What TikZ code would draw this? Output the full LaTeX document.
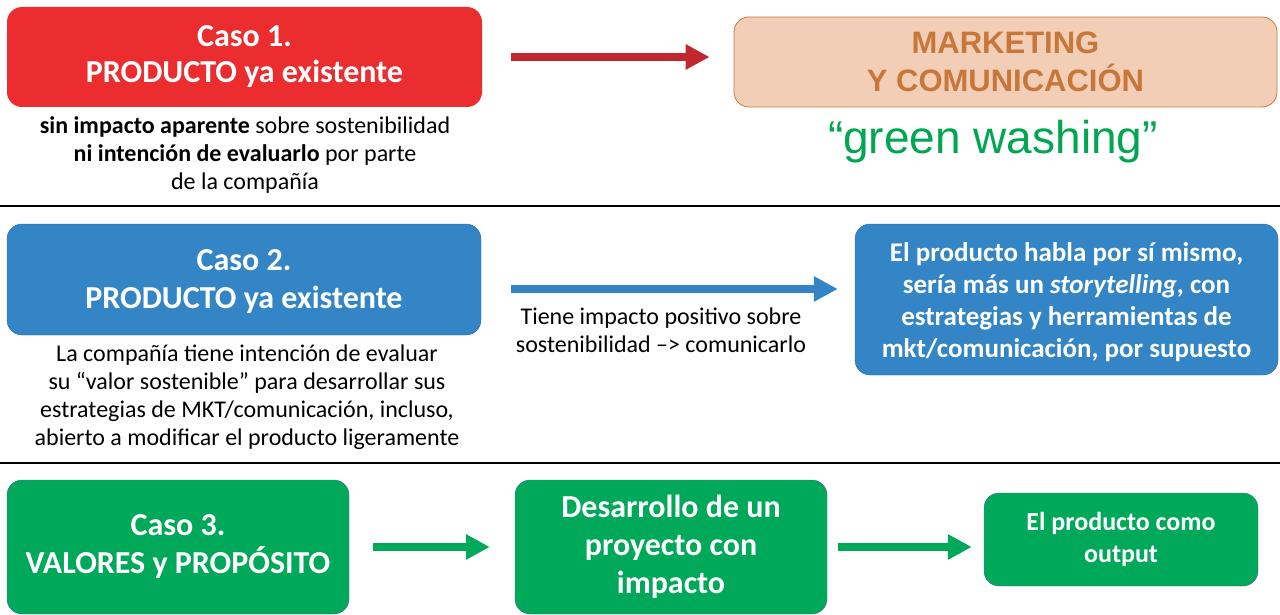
\documentclass[tikz,border=0pt]{standalone}
\usepackage{fontspec}
\setmainfont{Carlito}
\newfontfamily\arialfont{Liberation Sans}
\usetikzlibrary{arrows.meta,positioning}
\definecolor{casored}{HTML}{EB2D30}
\definecolor{arrowred}{HTML}{C0282E}
\definecolor{mktfill}{HTML}{F3CEB6}
\definecolor{mktline}{HTML}{C87A3E}
\definecolor{mkttext}{HTML}{C8773A}
\definecolor{casoblue}{HTML}{3385C6}
\definecolor{casogreen}{HTML}{00A85A}
\definecolor{washgreen}{HTML}{00A651}
\definecolor{boxedge}{HTML}{41719C}
\begin{document}
\begin{tikzpicture}[x=1pt,y=-1pt,
    caja/.style={rounded corners=15pt,text=white,align=center,inner sep=0pt},
    flecha/.style={line width=8pt,-{Triangle[length=24pt,width=24pt]}},
    nota/.style={align=center,font=\fontsize{24}{28}\selectfont}]
  \useasboundingbox (0,0) rectangle (1280,615);
  % --- caso 1
  \node[caja,fill=casored,minimum width=475pt,minimum height=100pt,
    font=\fontsize{32}{36}\selectfont\bfseries] (caso1) at (244.5,57)
    {Caso 1.\\PRODUCTO ya existente};
  \node[nota] (nota1) at (245,155)
    {\textbf{sin impacto aparente} sobre sostenibilidad\\
     \textbf{ni intención de evaluarlo} por parte\\de la compañía};
  \node[caja,fill=mktfill,draw=mktline,thick,minimum width=543pt,minimum height=90pt,
    text=mkttext,font=\arialfont\fontsize{31}{38}\selectfont\bfseries] (mkt) at (1005.5,62)
    {MARKETING\\Y COMUNICACIÓN};
  \node[text=washgreen,font=\arialfont\fontsize{46}{50}\selectfont] (wash) at (993,142)
    {“green washing”};
  \draw[flecha,arrowred,shorten <=29pt,shorten >=24pt] (caso1) -- (mkt.west |- caso1);
  \draw[line width=1.2pt] (0,206) -- (1280,206);
  % --- caso 2
  \node[caja,fill=casoblue,draw=casoblue!80!black,minimum width=474pt,minimum height=111pt,
    font=\fontsize{32}{38}\selectfont\bfseries] (caso2) at (244,279.5)
    {\rule{0pt}{26pt}Caso 2.\\PRODUCTO ya existente};
  \node[nota] (nota2) at (247,397)
    {La compañía tiene intención de evaluar\\
     su “valor sostenible” para desarrollar sus\\
     estrategias de MKT/comunicación, incluso,\\
     abierto a modificar el producto ligeramente};
  \node[caja,fill=casoblue,draw=casoblue!80!black,minimum width=423pt,minimum height=151pt,
    font=\fontsize{27}{32}\selectfont\bfseries] (relato) at (1066.5,299.5)
    {\rule{0pt}{24pt}El producto habla por sí mismo,\\
     sería más un \textit{storytelling}, con\\
     estrategias y herramientas de\\
     mkt/comunicación, por supuesto};
  \coordinate (ini2) at (511,289);
  \draw[flecha,casoblue,shorten >=17pt] (ini2) -- (ini2 -| relato.west);
  \node[nota] (impacto) at (661,330)
    {Tiene impacto positivo sobre\\sostenibilidad –> comunicarlo};
  \draw[line width=1.6pt] (0,463) -- (1280,463);
  % --- caso 3
  \node[caja,fill=casogreen,draw=boxedge,minimum width=342pt,minimum height=134pt,
    font=\fontsize{32}{38}\selectfont\bfseries] (caso3) at (178,547)
    {Caso 3.\\VALORES y PROPÓSITO};
  \node[caja,fill=casogreen,draw=boxedge,minimum width=312pt,minimum height=134pt,
    font=\fontsize{32}{38}\selectfont\bfseries] (proyecto) at (671,547)
    {Desarrollo de un\\proyecto con\\impacto};
  \node[caja,fill=casogreen,draw=boxedge,minimum width=274pt,minimum height=93pt,
    font=\fontsize{26}{32}\selectfont\bfseries] (output) at (1121,539.5)
    {El producto como\\output};
  \draw[flecha,casogreen,shorten <=24pt,shorten >=25pt] (caso3.east) -- (proyecto.west);
  \draw[flecha,casogreen,shorten <=11pt,shorten >=12pt] (proyecto.east) -- (proyecto.east -| output.west);
\end{tikzpicture}
\end{document}
